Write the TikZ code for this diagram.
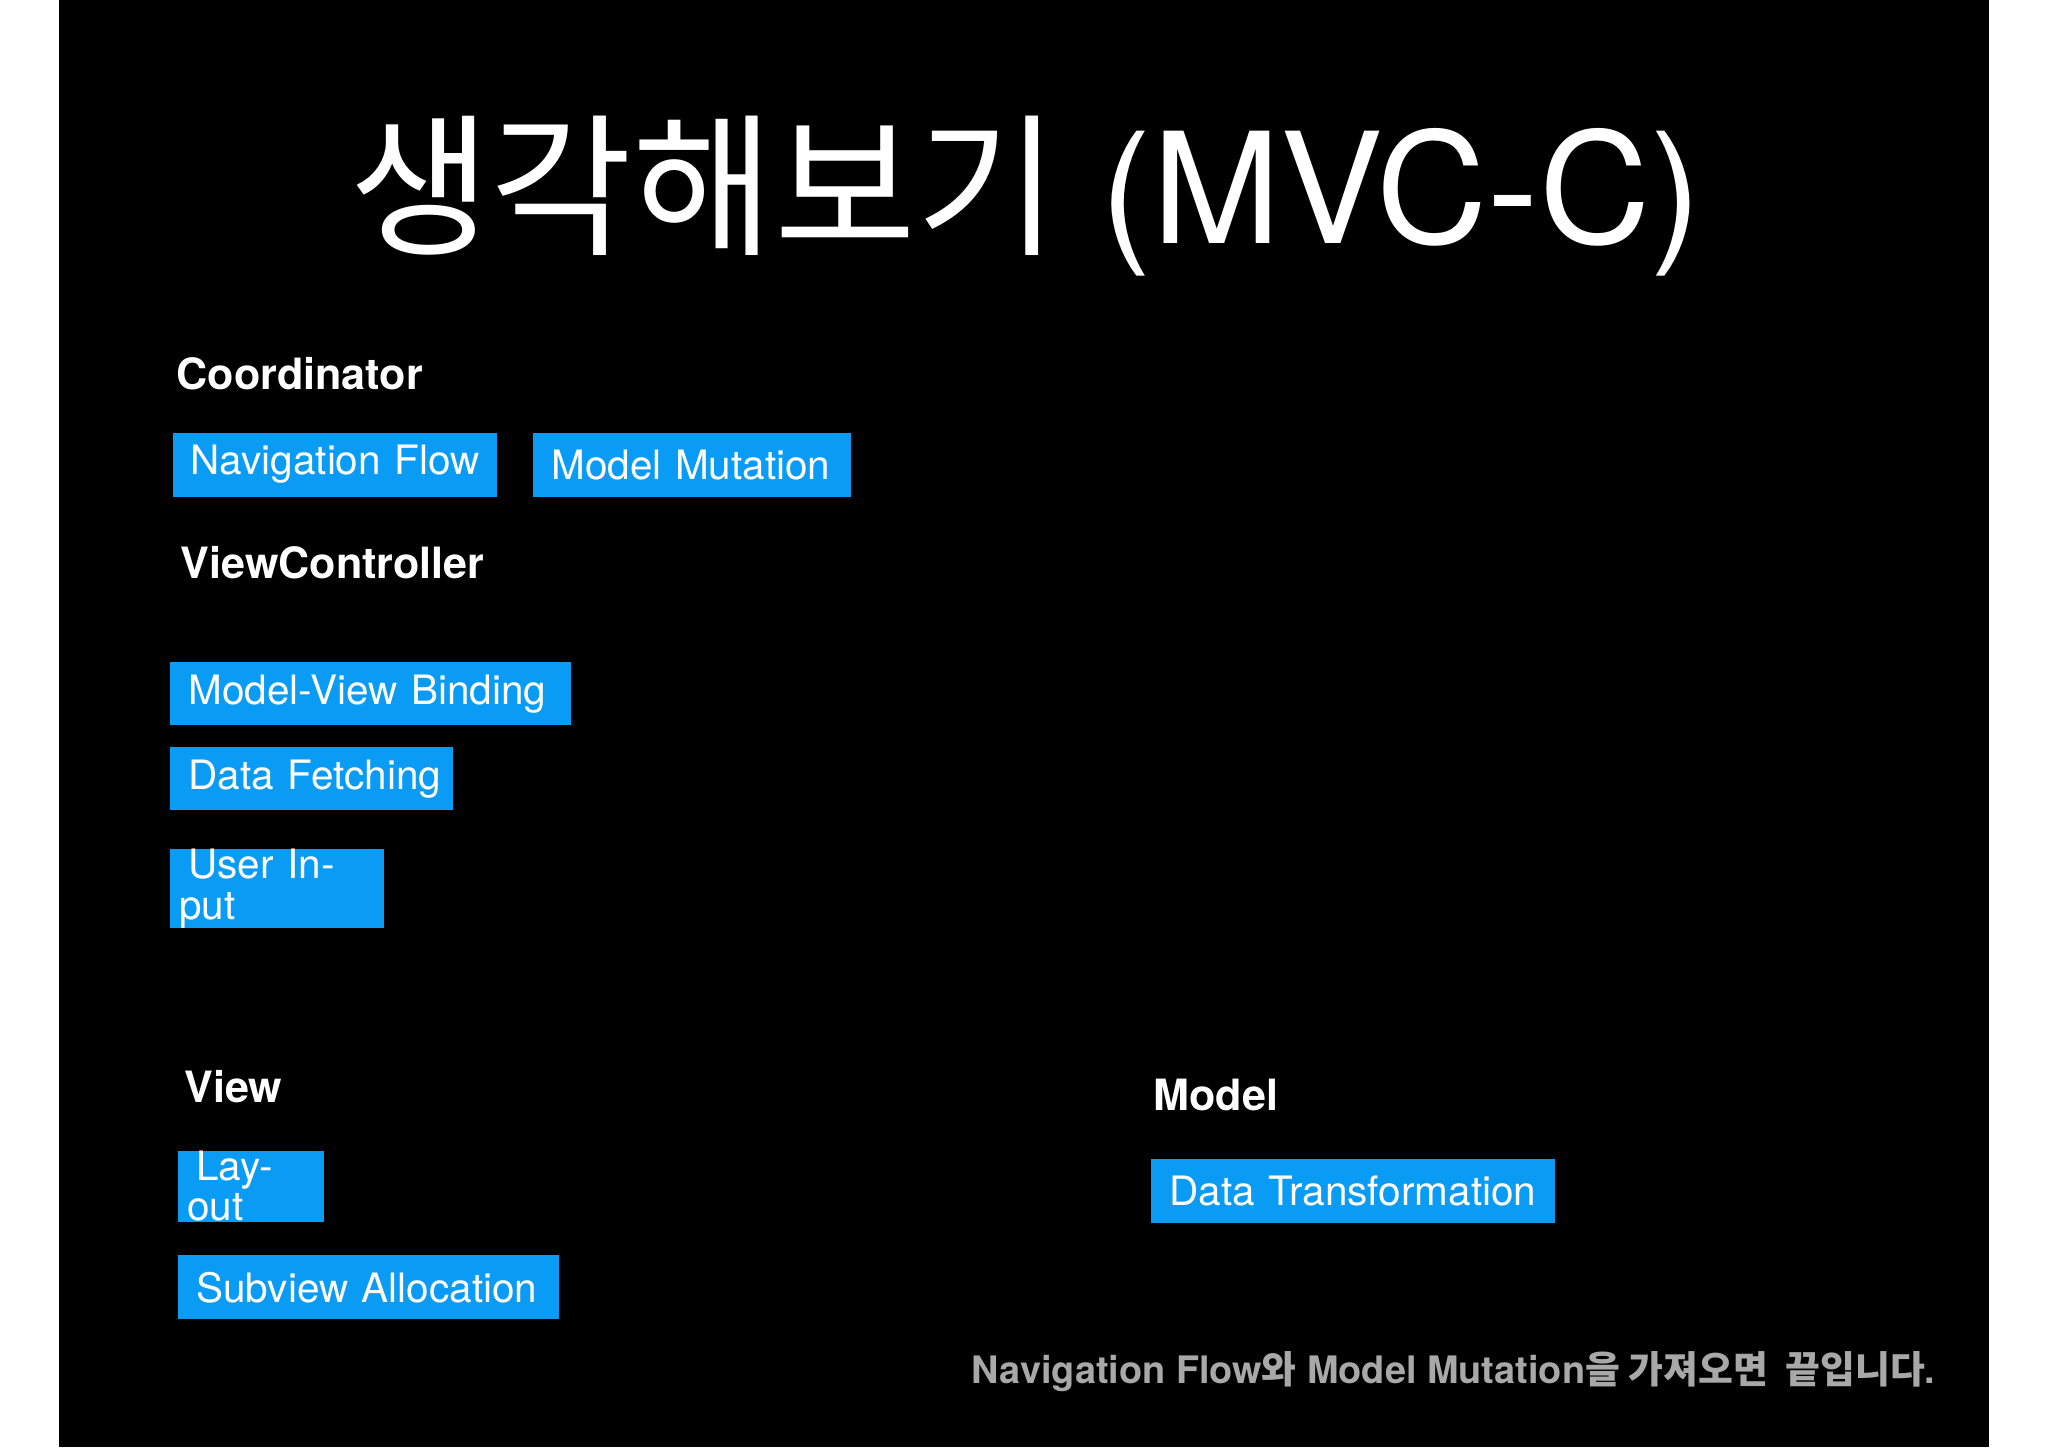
\documentclass[tikz,border=0pt]{standalone}
\usepackage{fontspec}
\setmainfont{TeX Gyre Heros}
\newfontfamily\kr{Noto Sans CJK KR}
\definecolor{boxblue}{HTML}{0A9BF5}
\definecolor{graytxt}{HTML}{A8A8A8}
\begin{document}
\begin{tikzpicture}[x=1pt,y=-1pt,
  hd/.style={anchor=west,text=white,font=\bfseries\fontsize{33}{33}\selectfont,inner sep=0},
  tag/.style={fill=boxblue,text=white,anchor=north west,inner sep=0,font=\fontsize{31}{31}\selectfont}]
\useasboundingbox (0,0) rectangle (1568,1108);
\fill[white] (0,0) rectangle (1568,1108);
\fill[black] (45,0) rectangle (1523,1108);
\node[text=white,inner sep=0,font=\fontsize{118}{118}\selectfont] (title) at (785,150) {{\kr 생각해보기} (MVC-C)};
\node[hd] (coord) at (135,286) {Coordinator};
\node[hd] (vc) at (138,431) {ViewController};
\node[hd] (view) at (141,832) {View};
\node[hd] (model) at (883,838) {Model};
\newcommand{\tagbox}[6]{\node[tag,minimum width=#4-#2,minimum height=#5-#3,text width=#4-#2-14,align=left] (#1) at (#2,#3) {\hspace*{7pt}#6};}
\tagbox{nav}{132}{331}{380}{380}{Navigation Flow}
\tagbox{mm}{408}{331}{651}{380}{Model Mutation}
\tagbox{mvb}{130}{507}{437}{555}{Model-View Binding}
\tagbox{df}{130}{572}{347}{620}{Data Fetching}
\tagbox{ui}{130}{650}{294}{698}{User Input}
\tagbox{lay}{136}{881}{248}{930}{Layout}
\tagbox{sa}{136}{961}{428}{1010}{Subview Allocation}
\tagbox{dt}{881}{887}{1190}{936}{Data Transformation}
\node[anchor=east,inner sep=0,text=graytxt,font=\bfseries\fontsize{29}{29}\selectfont] (note) at (1482,1050) {Navigation Flow{\kr 와} Model Mutation{\kr 을 가져오면\ \ 끝입니다}.};
\end{tikzpicture}
\end{document}
